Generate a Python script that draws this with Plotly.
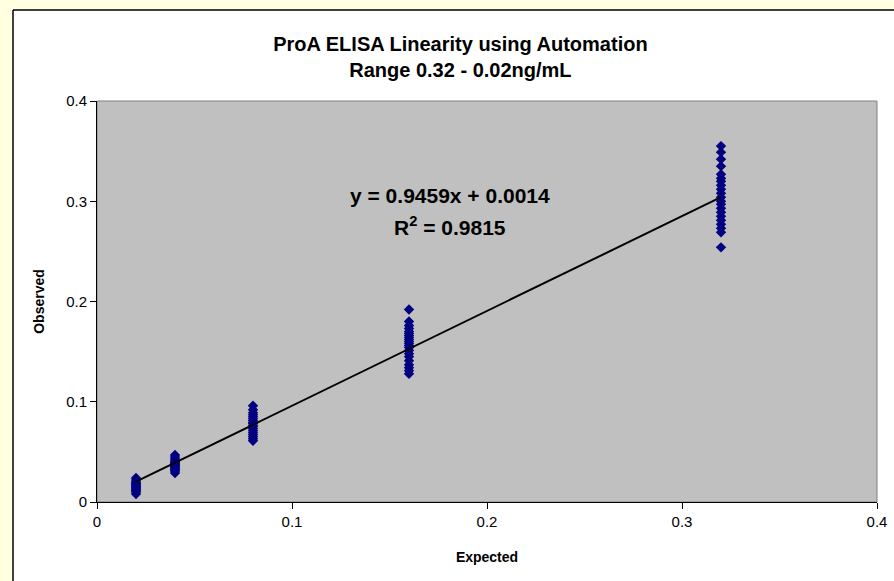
import plotly.graph_objects as go
import numpy as np

# Expected concentration (ng/mL) and the replicate observed values at each level
expected_levels = [0.02, 0.04, 0.08, 0.16, 0.32]
observed_002 = [0.024, 0.022, 0.020, 0.019, 0.018, 0.017, 0.016, 0.015, 0.014, 0.013, 0.012, 0.011, 0.010, 0.008]
observed_004 = [0.047, 0.045, 0.043, 0.041, 0.040, 0.039, 0.038, 0.037, 0.036, 0.035, 0.034, 0.033, 0.032, 0.031, 0.029]
observed_008 = [0.096, 0.092, 0.089, 0.087, 0.085, 0.083, 0.081, 0.079, 0.078, 0.076, 0.075, 0.073, 0.071, 0.069, 0.067, 0.065, 0.063, 0.061]
observed_016 = [0.192, 0.180, 0.176, 0.173, 0.170, 0.168, 0.166, 0.164, 0.162, 0.160, 0.158, 0.156, 0.154, 0.151, 0.148, 0.145, 0.141, 0.137, 0.134, 0.131, 0.128]
observed_032 = [0.355, 0.349, 0.342, 0.335, 0.327, 0.323, 0.320, 0.316, 0.312, 0.308, 0.304, 0.300, 0.297, 0.293, 0.289, 0.285, 0.281, 0.277, 0.273, 0.269, 0.254]

# Linear trendline from the chart
slope = 0.9459
intercept = 0.0014
r_squared = 0.9815

groups = [observed_002, observed_004, observed_008, observed_016, observed_032]
xs = []
ys = []
for lvl, obs in zip(expected_levels, groups):
    xs += [lvl] * len(obs)
    ys += obs

fig = go.Figure()
fig.add_trace(go.Scatter(
    x=xs, y=ys, mode='markers',
    marker=dict(symbol='diamond', size=8, color='#000080'),
    showlegend=False,
))

line_x = np.array([min(expected_levels), max(expected_levels)])
fig.add_trace(go.Scatter(
    x=line_x, y=slope * line_x + intercept, mode='lines',
    line=dict(color='black', width=2),
    showlegend=False,
))

font = 'Liberation Sans, Arial, sans-serif'
page_yellow = '#FFFFE1'

# pale yellow page strips (left and top) around the white chart area
fig.add_shape(type='rect', xref='paper', yref='paper',
              x0=-0.2, x1=-0.1077, y0=-0.3, y1=1.3,
              fillcolor=page_yellow, line_width=0, layer='below')
fig.add_shape(type='rect', xref='paper', yref='paper',
              x0=-0.2, x1=1.1, y0=1.227, y1=1.3,
              fillcolor=page_yellow, line_width=0, layer='below')
# black border of the chart area
fig.add_shape(type='line', xref='paper', yref='paper',
              x0=-0.1077, x1=-0.1077, y0=-0.3, y1=1.227,
              line=dict(color='black', width=1.5))
fig.add_shape(type='line', xref='paper', yref='paper',
              x0=-0.1077, x1=1.1, y0=1.227, y1=1.227,
              line=dict(color='black', width=1.5))
# grey plot area
fig.add_shape(type='rect', xref='paper', yref='paper',
              x0=0, x1=1, y0=0, y1=1,
              fillcolor='#C0C0C0', line=dict(color='#808080', width=1), layer='below')

fig.add_annotation(
    x=0.181, y=0.306, xref='x', yref='y',
    text=f'<b>y = {slope}x + {intercept}</b>',
    showarrow=False, font=dict(family=font, size=21, color='black'),
)
fig.add_annotation(
    x=0.181, y=0.275, xref='x', yref='y',
    text=f'<b>R<sup>2</sup> = {r_squared}</b>',
    showarrow=False, font=dict(family=font, size=21, color='black'),
)

fig.update_layout(
    width=894, height=581,
    margin=dict(l=97, r=17, t=101, b=79),
    paper_bgcolor='white',
    plot_bgcolor='rgba(0,0,0,0)',
    font=dict(family=font, size=15, color='black'),
    title=dict(
        text='<b>ProA ELISA Linearity using Automation<br>Range 0.32 - 0.02ng/mL</b>',
        x=0.515, xanchor='center', y=0.912, yanchor='middle',
        font=dict(family=font, size=20, color='black'),
    ),
    xaxis=dict(
        range=[0, 0.4], dtick=0.1, showgrid=False, zeroline=False,
        showline=True, linecolor='black', linewidth=1, automargin=False,
        ticks='outside', ticklen=6, tickcolor='black',
        title=dict(text='<b>Expected</b>', font=dict(size=14), standoff=23),
    ),
    yaxis=dict(
        range=[0, 0.4], dtick=0.1, showgrid=False, zeroline=False,
        showline=True, linecolor='black', linewidth=1, automargin=False,
        ticks='outside', ticklen=6, tickcolor='black',
        title=dict(text='<b>Observed</b>', font=dict(size=14), standoff=18),
    ),
)

fig.write_html('out.html', config={'displayModeBar': False},
               post_script="document.body.style.margin='0';")
